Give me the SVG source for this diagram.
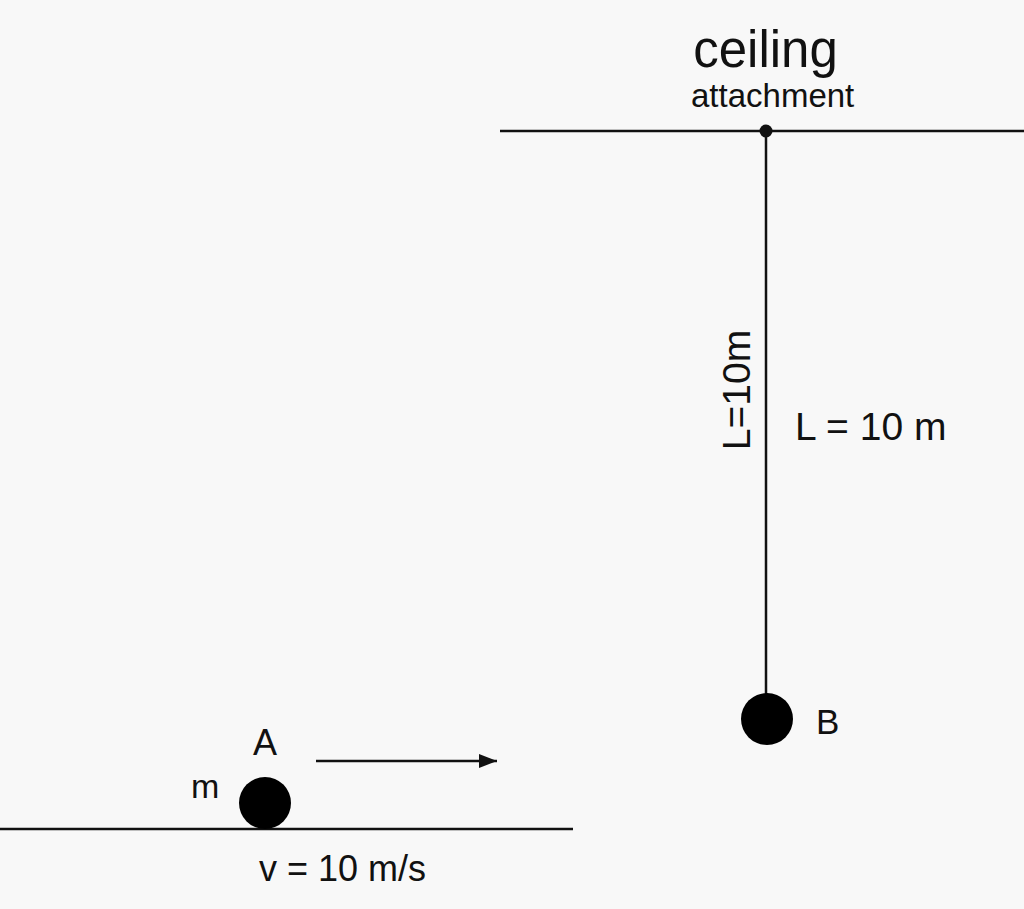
<svg xmlns="http://www.w3.org/2000/svg" width="1024" height="909" viewBox="0 0 1024 909">
<defs>
<style>
text{font-family:"Liberation Sans",Arial,sans-serif;fill:#111}
.ln{stroke:#111;stroke-width:2.5;fill:none}
</style>
<marker id="ah" markerWidth="19" markerHeight="16" refX="18" refY="8" orient="auto" markerUnits="userSpaceOnUse"><path d="M0,1 L18,8 L0,15 Z" fill="#111"/></marker>
</defs>
<rect width="1024" height="909" fill="#f8f8f8"/>
<g id="ceiling">
<line class="ln" x1="500" y1="131" x2="1024" y2="131"/>
<circle cx="766" cy="131" r="6.5" fill="#111"/>
<text x="765.5" y="67" font-size="51" text-anchor="middle">ceiling</text>
<text x="691" y="107" font-size="33">attachment</text>
</g>
<g id="connectors">
<line class="ln" x1="766" y1="131" x2="766" y2="700"/>
<line class="ln" x1="316" y1="761" x2="497" y2="761" marker-end="url(#ah)"/>
</g>
<g id="string-labels">
<text x="0" y="0" font-size="39" text-anchor="middle" transform="translate(750,390) rotate(-90)">L=10m</text>
<text x="795" y="440" font-size="39">L = 10 m</text>
</g>
<g id="ballB">
<circle cx="767" cy="719" r="26" fill="#000"/>
<text x="816" y="734" font-size="35">B</text>
</g>
<g id="ground">
<line class="ln" x1="0" y1="829" x2="573" y2="829"/>
</g>
<g id="ballA">
<circle cx="265" cy="803" r="26" fill="#000"/>
<text x="265" y="755" font-size="36" text-anchor="middle">A</text>
<text x="191" y="798" font-size="34">m</text>
<text x="259" y="881" font-size="36">v = 10 m/s</text>
</g>
</svg>
